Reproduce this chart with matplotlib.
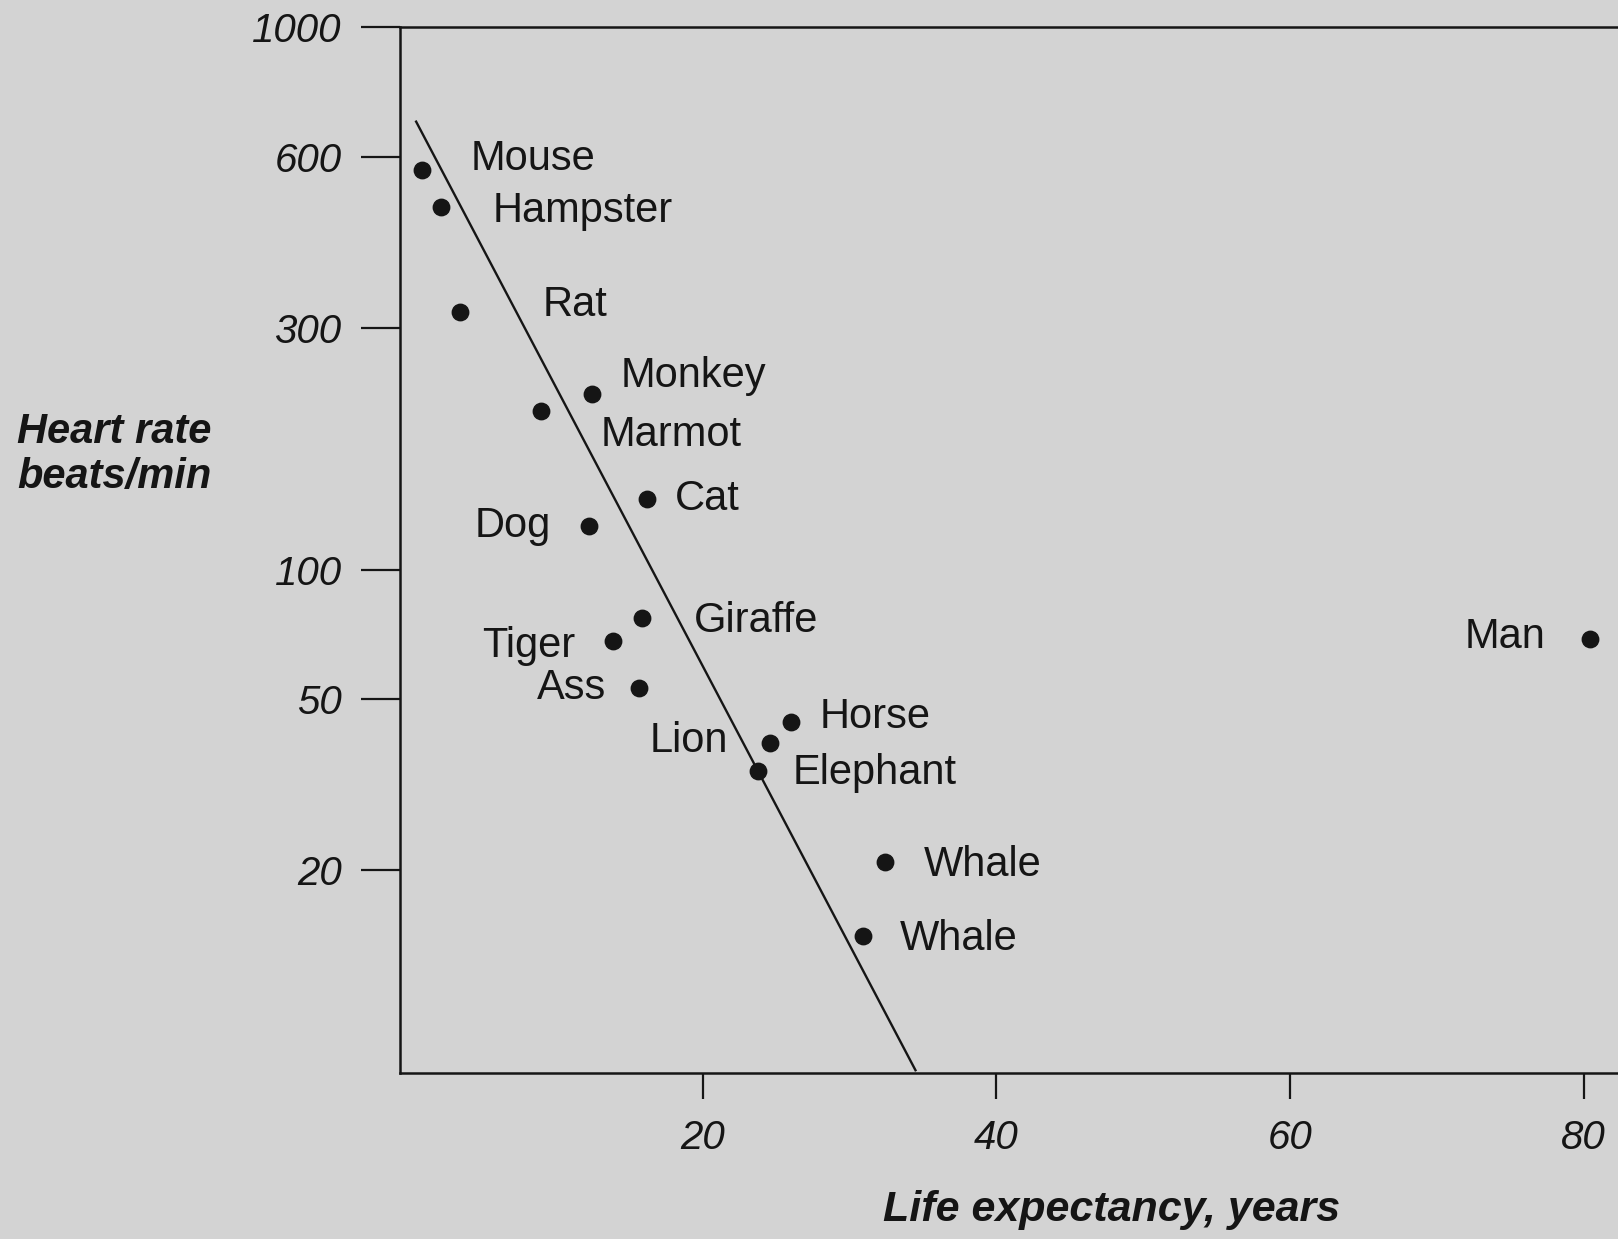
import numpy as np
import matplotlib
matplotlib.use("Agg")
import matplotlib.pyplot as plt

# data
animals = ["Mouse", "Hampster", "Rat", "Monkey", "Marmot", "Cat", "Dog",
           "Giraffe", "Tiger", "Ass", "Horse", "Lion", "Elephant",
           "Whale", "Whale", "Man"]
life_years = [0.9, 2.2, 3.5, 12.5, 9.0, 16.2, 12.3,
              15.9, 13.9, 15.7, 26.0, 24.6, 23.8,
              32.4, 30.9, 80.4]
heart_rate = [570, 490, 320, 222, 206, 138, 122,
              77, 68, 53, 44, 39.5, 34,
              20.8, 14, 69]

fit_years = [0.5, 34.5]
fit_rate = [690, 6.8]

x_ticks = [20, 40, 60, 80]
y_ticks = [20, 50, 100, 300, 600, 1000]

# label offsets in points (dx, dy) and alignment
label_offsets = [(35, 8), (37, -3), (59, 5), (20, 13), (43, -17), (20, 0), (-28, 0),
                 (37, -2), (-27, -3), (-24, 0), (21, 4), (-30, 1), (25, -2),
                 (28, -2), (27, -2), (-32, 1)]
label_ha = ["left", "left", "left", "left", "left", "left", "right",
            "left", "right", "right", "left", "right", "left",
            "left", "left", "right"]

# the printed log axis is unevenly spaced; piecewise log mapping
scale_logs = np.array([0.0, np.log10(20), np.log10(50), 2.0, np.log10(300),
                       np.log10(600), 3.0, 4.0])
scale_pos = -np.array([1383, 843, 677, 552, 318, 152, 26, -542], dtype=float)


def fwd(v):
    v = np.clip(np.asarray(v, dtype=float), 1e-3, None)
    return np.interp(np.log10(v), scale_logs, scale_pos)


def inv(u):
    return 10 ** np.interp(np.asarray(u, dtype=float), scale_pos, scale_logs)


bg = "#d3d3d3"
ink = "#151515"
plt.rcParams["font.family"] = ["Liberation Sans", "DejaVu Sans"]

fig = plt.figure(figsize=(16.18, 12.39), dpi=100, facecolor=bg)
ax = fig.add_axes([0.2472, 0.134, 0.777, 0.844])
ax.set_facecolor(bg)

ax.set_yscale("function", functions=(fwd, inv))
ax.set_xlim(-0.6, 85)
ax.set_ylim(6.7, 1000)

ax.plot(fit_years, fit_rate, color=ink, lw=1.7, clip_on=False)
ax.scatter(life_years, heart_rate, s=140, color=ink, zorder=3, clip_on=False)

for name, x, y, off, ha in zip(animals, life_years, heart_rate, label_offsets, label_ha):
    ax.annotate(name, (x, y), xytext=off, textcoords="offset points",
                ha=ha, va="center", fontsize=30, color=ink)

ax.set_xticks(x_ticks)
ax.set_xticklabels([str(t) for t in x_ticks])
ax.set_yticks(y_ticks)
ax.set_yticklabels([str(t) for t in y_ticks])
ax.yaxis.set_minor_locator(matplotlib.ticker.NullLocator())

ax.tick_params(axis="y", direction="out", length=28, width=1.6, pad=14,
               labelsize=29, colors=ink)
ax.tick_params(axis="x", direction="out", length=19, width=1.6, pad=14,
               labelsize=29, colors=ink)
for lab in ax.get_xticklabels() + ax.get_yticklabels():
    lab.set_fontstyle("italic")

for side in ["left", "bottom", "top"]:
    ax.spines[side].set_color(ink)
    ax.spines[side].set_linewidth(1.8)
ax.spines["right"].set_visible(False)

fig.text(0.0108, 0.633, "Heart rate\nbeats/min", ha="left", va="center",
         fontsize=30, fontstyle="italic", fontweight="bold", color=ink,
         linespacing=1.15)
fig.text(0.687, 0.0234, "Life expectancy, years", ha="center", va="center",
         fontsize=31, fontstyle="italic", fontweight="bold", color=ink)

fig.savefig("out.png", dpi=100, facecolor=bg)
